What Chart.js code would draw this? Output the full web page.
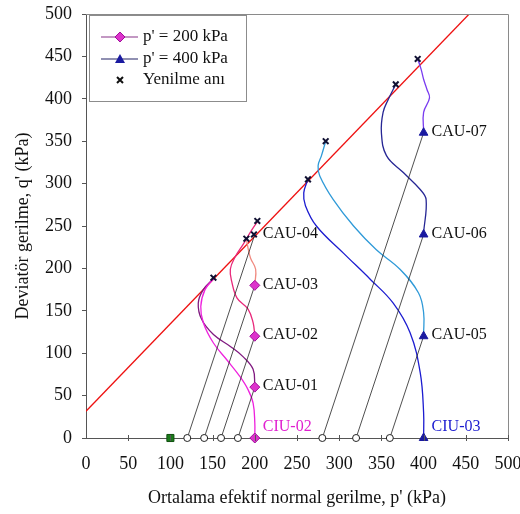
<!DOCTYPE html>
<html>
<head>
<meta charset="utf-8">
<script src="https://cdn.jsdelivr.net/npm/chart.js@4.4.0/dist/chart.umd.min.js"></script>
<style>
    html, body { margin: 0; padding: 0; background: #ffffff; }
</style>
</head>
<body>
<canvas id="stressChart" width="520" height="514"></canvas>
<script>

// ================= DATA =================

// Axis range (kPa)
const axisMin = 0;
const axisMax = 500;
const axisStep = 50;

// Undrained stress paths [p', q'] for the p' = 200 kPa group
const ciu02 = [[200, 0], [200, 18], [198, 41], [192, 57], [182, 73], [167, 92], [151, 112], [139, 136], [136, 155], [141, 175], [152, 189]];
const cau01 = [[200, 61], [198, 81], [186, 96], [171, 108], [151, 122], [137, 140], [133, 159], [139, 175], [152, 189]];
const cau02 = [[200, 121], [198, 136], [192, 152], [179, 165], [173, 183], [171, 199], [177, 214], [186, 228], [195, 243], [203, 255]];
const cau03 = [[200, 181], [201, 199], [195, 212], [192, 224], [190, 235]];

// Undrained stress paths [p', q'] for the p' = 400 kPa group
const ciu03 = [[400, 0], [400, 30], [396, 77], [384, 124], [364, 159], [337, 187], [305, 218], [273, 250], [260, 274], [258, 289], [263, 305]];
const cau05 = [[400, 122], [400, 148], [394, 171], [372, 199], [344, 222], [317, 250], [293, 281], [277, 309], [275, 321], [279, 333], [284, 350]];
const cau06 = [[400, 242], [403, 281], [396, 293], [376, 313], [356, 333], [350, 360], [352, 384], [358, 399], [367, 417]];
const cau07 = [[400, 362], [400, 384], [407, 401], [404, 411], [400, 423], [397, 435], [393, 447]];

// Drained consolidation paths: start on the p' axis, end at the test start
const consolidationStart = [120, 140, 160, 180, 280, 320, 360];
const consolidationEnd = [[200, 240], [200, 180], [200, 120], [200, 60], [400, 360], [400, 240], [400, 120]];

// Markers
const startPoints200 = [[200, 0], [200, 60], [200, 120], [200, 180]];
const startPoints400 = [[400, 0], [400, 120], [400, 240], [400, 360]];
const failurePoints = [[151, 189], [190, 235], [199, 240], [203, 256], [263, 305], [284, 350], [367, 417], [393, 447]];
const initialPoint = [[100, 0]];

// Failure envelope end points
const failureLine = [[0, 31.5], [454, 500]];

// Test labels and the point each one is written next to
const testLabels = ["CIU-02", "CAU-01", "CAU-02", "CAU-03", "CAU-04", "CIU-03", "CAU-05", "CAU-06", "CAU-07"];
const testLabelAnchors = [[200, 0], [200, 60], [200, 120], [200, 180], [200, 240], [400, 0], [400, 120], [400, 240], [400, 360]];

// Legend texts
const legendLabels = ["p' = 200 kPa", "p' = 400 kPa", "Yenilme anı"];


// ================= HELPERS =================

const serif = "'Liberation Serif', 'DejaVu Serif', serif";

function toXY(pairs) {
    return pairs.map(pair => ({ x: pair[0], y: pair[1] }));
}

function curveDataset(points, color) {
    return {
        data: toXY(points),
        showLine: true,
        borderColor: color,
        borderWidth: 1.3,
        pointRadius: 0,
        tension: 0.4,
        fill: false,
        order: 3
    };
}

function markerDataset(points, style, radius, fillColor, lineColor, lineWidth) {
    return {
        data: toXY(points),
        showLine: false,
        pointStyle: style,
        pointRadius: radius,
        pointBackgroundColor: fillColor,
        pointBorderColor: lineColor,
        pointBorderWidth: lineWidth,
        clip: false,
        order: 0
    };
}


// ================= DATASETS =================

const datasets = [];

// Failure envelope
datasets.push({
    data: toXY(failureLine),
    showLine: true,
    borderColor: "#ee1111",
    borderWidth: 1.3,
    pointRadius: 0,
    order: 4
});

// Consolidation paths
consolidationStart.forEach((p, i) => {
    datasets.push({
        data: toXY([[p, 0], consolidationEnd[i]]),
        showLine: true,
        borderColor: "#222222",
        borderWidth: 0.8,
        pointRadius: 0,
        order: 2
    });
});

// Undrained paths
datasets.push(curveDataset(ciu02, "#ee22dd"));
datasets.push(curveDataset(cau01, "#801a80"));
datasets.push(curveDataset(cau02, "#e8287a"));
datasets.push(curveDataset(cau03, "#f08a80"));
datasets.push(curveDataset(ciu03, "#1c1cd0"));
datasets.push(curveDataset(cau05, "#2f9ad8"));
datasets.push(curveDataset(cau06, "#262694"));
datasets.push(curveDataset(cau07, "#7a3cf0"));

// Markers
datasets.push(markerDataset(startPoints200, "rectRot", 5, "#dd33cc", "#a0109a", 1));
datasets.push(markerDataset(startPoints400, "triangle", 5, "#1a1aa0", "#1a1aa0", 1));
datasets.push(markerDataset(failurePoints, "crossRot", 4, "#111111", "#111133", 2));
datasets.push(markerDataset(consolidationStart.map(p => [p, 0]), "circle", 3.5, "#ffffff", "#222222", 1));
datasets.push(markerDataset(initialPoint, "rect", 5, "#1b7a1b", "#0f4f0f", 1));


// ================= DECORATION PLUGIN =================

const decorations = {

    id: "decorations",

    afterDatasetsDraw(chart) {

        const { ctx, chartArea, scales } = chart;

        ctx.save();

        // Top and right frame
        ctx.strokeStyle = "#8a8a8a";
        ctx.lineWidth = 1;
        ctx.beginPath();
        ctx.moveTo(chartArea.left, chartArea.top + 0.5);
        ctx.lineTo(chartArea.right + 0.5, chartArea.top + 0.5);
        ctx.lineTo(chartArea.right + 0.5, chartArea.bottom);
        ctx.stroke();

        // Tick marks on the p' axis
        ctx.strokeStyle = "#555555";
        for (let v = axisMin + axisStep; v <= axisMax; v += axisStep) {
            const x = Math.round(scales.x.getPixelForValue(v)) + 0.5;
            ctx.beginPath();
            ctx.moveTo(x, chartArea.bottom - 3);
            ctx.lineTo(x, chartArea.bottom + 3);
            ctx.stroke();
        }

        // Test labels
        ctx.font = "16px " + serif;
        ctx.textAlign = "left";
        ctx.textBaseline = "middle";

        testLabels.forEach((label, i) => {
            const anchor = testLabelAnchors[i];
            const x = scales.x.getPixelForValue(anchor[0]) + 8;
            let y = scales.y.getPixelForValue(anchor[1]) - 1;

            ctx.fillStyle = "#111111";
            if (label === "CIU-02") {
                ctx.fillStyle = "#e020d0";
                y -= 10;
            }
            if (label === "CIU-03") {
                ctx.fillStyle = "#1c1cd0";
                y -= 10;
            }
            ctx.fillText(label, x, y);
        });

        // Legend box
        ctx.fillStyle = "#ffffff";
        ctx.fillRect(89.5, 15.5, 157, 86);
        ctx.strokeStyle = "#8c8c8c";
        ctx.strokeRect(89.5, 15.5, 157, 86);

        const rows = [37, 59, 80];

        // p' = 200 kPa
        ctx.strokeStyle = "#883388";
        ctx.lineWidth = 1.2;
        ctx.beginPath();
        ctx.moveTo(101, rows[0]);
        ctx.lineTo(138, rows[0]);
        ctx.stroke();
        ctx.fillStyle = "#dd33cc";
        ctx.strokeStyle = "#a0109a";
        ctx.lineWidth = 1;
        ctx.beginPath();
        ctx.moveTo(120, rows[0] - 5);
        ctx.lineTo(125, rows[0]);
        ctx.lineTo(120, rows[0] + 5);
        ctx.lineTo(115, rows[0]);
        ctx.closePath();
        ctx.fill();
        ctx.stroke();

        // p' = 400 kPa
        ctx.strokeStyle = "#222266";
        ctx.lineWidth = 1.2;
        ctx.beginPath();
        ctx.moveTo(101, rows[1]);
        ctx.lineTo(138, rows[1]);
        ctx.stroke();
        ctx.fillStyle = "#1a1aa0";
        ctx.beginPath();
        ctx.moveTo(120, rows[1] - 5);
        ctx.lineTo(125, rows[1] + 4);
        ctx.lineTo(115, rows[1] + 4);
        ctx.closePath();
        ctx.fill();

        // Failure marker
        ctx.strokeStyle = "#111111";
        ctx.lineWidth = 2;
        ctx.beginPath();
        ctx.moveTo(117, rows[2] - 3);
        ctx.lineTo(123, rows[2] + 3);
        ctx.moveTo(123, rows[2] - 3);
        ctx.lineTo(117, rows[2] + 3);
        ctx.stroke();

        // Legend texts
        ctx.fillStyle = "#111111";
        ctx.font = "17px " + serif;
        legendLabels.forEach((label, i) => {
            ctx.fillText(label, 143, rows[i]);
        });

        ctx.restore();
    }
};


// ================= CHART =================

new Chart(
    document.getElementById("stressChart"),
    {
        type: "scatter",

        data: {
            datasets: datasets
        },

        options: {
            responsive: false,

            animation: false,

            layout: {
                padding: {
                    left: 0,
                    right: 12,
                    top: 14,
                    bottom: 0
                }
            },

            plugins: {
                legend: { display: false },
                tooltip: { enabled: false }
            },

            scales: {
                x: {
                    type: "linear",
                    min: axisMin,
                    max: axisMax,

                    // Fixed plot frame: no extra room for the edge labels
                    afterFit(scale) {
                        scale.height = 76;
                        scale.paddingLeft = 0;
                        scale.paddingRight = 0;
                    },

                    ticks: {
                        stepSize: axisStep,
                        color: "#111111",
                        padding: 15,
                        maxRotation: 0,
                        font: { family: serif, size: 18 }
                    },

                    grid: {
                        drawOnChartArea: false,
                        drawTicks: false
                    },

                    border: {
                        color: "#555555",
                        width: 1
                    },

                    title: {
                        display: true,
                        text: "Ortalama efektif normal gerilme, p' (kPa)",
                        color: "#111111",
                        font: { family: serif, size: 18 },
                        padding: { top: 0, bottom: 5 }
                    }
                },

                y: {
                    type: "linear",
                    min: axisMin,
                    max: axisMax,

                    afterFit(scale) {
                        scale.width = 86;
                        scale.paddingTop = 0;
                        scale.paddingBottom = 0;
                    },

                    ticks: {
                        stepSize: axisStep,
                        color: "#111111",
                        padding: 10,
                        font: { family: serif, size: 18 }
                    },

                    grid: {
                        drawOnChartArea: false,
                        drawTicks: true,
                        tickLength: 4,
                        color: "#555555"
                    },

                    border: {
                        color: "#555555",
                        width: 1
                    },

                    title: {
                        display: true,
                        text: "Deviatör gerilme, q' (kPa)",
                        color: "#111111",
                        font: { family: serif, size: 18 },
                        padding: { top: 12, bottom: 0 }
                    }
                }
            }
        },

        plugins: [
            decorations
        ]
    }
);

</script>
</body>
</html>
